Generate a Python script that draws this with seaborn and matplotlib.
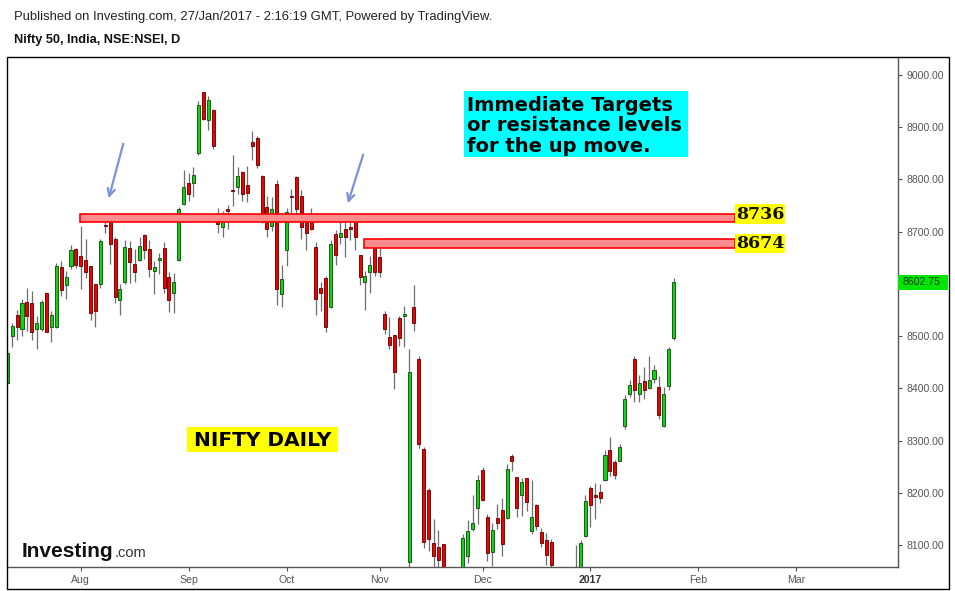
import numpy as np
import pandas as pd
import matplotlib
matplotlib.use("Agg")
import matplotlib.pyplot as plt
import matplotlib.transforms as mtrans
from matplotlib.patches import Rectangle
import seaborn as sns

# ---------------- data (Nifty 50 daily, NSE) ----------------
dates = [
    "2016-07-11", "2016-07-12", "2016-07-13", "2016-07-14", "2016-07-15", "2016-07-18", "2016-07-19",
    "2016-07-20", "2016-07-21", "2016-07-22", "2016-07-25", "2016-07-26", "2016-07-27", "2016-07-28",
    "2016-07-29", "2016-08-01", "2016-08-02", "2016-08-03", "2016-08-04", "2016-08-05", "2016-08-08",
    "2016-08-09", "2016-08-10", "2016-08-11", "2016-08-12", "2016-08-16", "2016-08-17", "2016-08-18",
    "2016-08-19", "2016-08-22", "2016-08-23", "2016-08-24", "2016-08-25", "2016-08-26", "2016-08-29",
    "2016-08-30", "2016-08-31", "2016-09-01", "2016-09-02", "2016-09-06", "2016-09-07", "2016-09-08",
    "2016-09-09", "2016-09-12", "2016-09-14", "2016-09-15", "2016-09-16", "2016-09-19", "2016-09-20",
    "2016-09-21", "2016-09-22", "2016-09-23", "2016-09-26", "2016-09-27", "2016-09-28", "2016-09-29",
    "2016-09-30", "2016-10-03", "2016-10-04", "2016-10-05", "2016-10-06", "2016-10-07", "2016-10-10",
    "2016-10-13", "2016-10-14", "2016-10-17", "2016-10-18", "2016-10-19", "2016-10-20", "2016-10-21",
    "2016-10-24", "2016-10-25", "2016-10-26", "2016-10-27", "2016-10-28", "2016-10-30", "2016-11-01",
    "2016-11-02", "2016-11-03", "2016-11-04", "2016-11-07", "2016-11-08", "2016-11-09", "2016-11-10",
    "2016-11-11", "2016-11-15", "2016-11-16", "2016-11-17", "2016-11-18", "2016-11-21", "2016-11-22",
    "2016-11-23", "2016-11-24", "2016-11-25", "2016-11-28", "2016-11-29", "2016-11-30", "2016-12-01",
    "2016-12-02", "2016-12-05", "2016-12-06", "2016-12-07", "2016-12-08", "2016-12-09", "2016-12-12",
    "2016-12-13", "2016-12-14", "2016-12-15", "2016-12-16", "2016-12-19", "2016-12-20", "2016-12-21",
    "2016-12-22", "2016-12-23", "2016-12-26", "2016-12-27", "2016-12-28", "2016-12-29", "2016-12-30",
    "2017-01-02", "2017-01-03", "2017-01-04", "2017-01-05", "2017-01-06", "2017-01-09", "2017-01-10",
    "2017-01-11", "2017-01-12", "2017-01-13", "2017-01-16", "2017-01-17", "2017-01-18", "2017-01-19",
    "2017-01-20", "2017-01-23", "2017-01-24", "2017-01-25",
]
opens = [
    8411, 8501, 8540, 8514, 8565, 8563, 8513, 8513, 8582, 8518, 8517, 8632, 8597, 8635, 8666,
    8653, 8645, 8634, 8599, 8599, 8712, 8726, 8685, 8570, 8603, 8668, 8638, 8646, 8693, 8666,
    8625, 8646, 8668, 8613, 8582, 8645, 8753, 8793, 8794, 8850, 8967, 8913, 8933, 8732, 8708,
    8743, 8780, 8786, 8815, 8789, 8871, 8879, 8807, 8747, 8710, 8791, 8580, 8665, 8769, 8804,
    8768, 8720, 8732, 8670, 8592, 8611, 8555, 8696, 8690, 8706, 8709, 8719, 8655, 8604, 8623,
    8675, 8651, 8542, 8499, 8502, 8534, 8538, 8067, 8555, 8456, 8283, 8205, 8103, 8096, 8101,
    7989, 8047, 8012, 8004, 8079, 8130, 8170, 8244, 8153, 8087, 8151, 8167, 8151, 8270, 8230,
    8195, 8228, 8126, 8176, 8124, 8110, 8105, 8046, 7991, 7983, 7916, 8047, 8036, 8117, 8209,
    8196, 8201, 8224, 8282, 8259, 8261, 8327, 8390, 8456, 8389, 8414, 8401, 8417, 8402, 8327,
    8405, 8497,
]
highs = [
    8473, 8526, 8550, 8571, 8593, 8586, 8538, 8569, 8584, 8548, 8640, 8644, 8625, 8674, 8668,
    8711, 8686, 8634, 8599, 8686, 8723, 8730, 8689, 8599, 8684, 8683, 8667, 8689, 8696, 8684,
    8643, 8659, 8681, 8622, 8620, 8748, 8818, 8812, 8823, 8951, 8968, 8960, 8934, 8746, 8740,
    8751, 8847, 8823, 8816, 8826, 8893, 8884, 8809, 8768, 8766, 8799, 8636, 8745, 8782, 8807,
    8780, 8724, 8745, 8680, 8603, 8615, 8684, 8703, 8725, 8722, 8736, 8721, 8655, 8625, 8653,
    8675, 8668, 8548, 8537, 8502, 8539, 8558, 8476, 8598, 8461, 8288, 8209, 8150, 8129, 8102,
    8014, 8049, 8030, 8121, 8147, 8196, 8234, 8249, 8159, 8143, 8179, 8189, 8255, 8274, 8230,
    8228, 8228, 8225, 8179, 8132, 8122, 8112, 8049, 8025, 7995, 8047, 8100, 8110, 8196, 8212,
    8219, 8217, 8282, 8307, 8263, 8293, 8387, 8416, 8461, 8426, 8440, 8461, 8445, 8424, 8403,
    8479, 8611,
]
lows = [
    8406, 8480, 8492, 8500, 8510, 8492, 8476, 8510, 8507, 8489, 8515, 8577, 8572, 8628, 8631,
    8591, 8612, 8530, 8518, 8592, 8698, 8639, 8564, 8540, 8600, 8601, 8603, 8643, 8648, 8614,
    8580, 8619, 8583, 8547, 8544, 8643, 8751, 8759, 8767, 8847, 8913, 8895, 8858, 8698, 8689,
    8705, 8749, 8773, 8759, 8757, 8837, 8821, 8716, 8690, 8702, 8559, 8555, 8635, 8736, 8731,
    8685, 8665, 8703, 8540, 8549, 8507, 8553, 8637, 8676, 8652, 8684, 8664, 8597, 8550, 8582,
    8616, 8613, 8504, 8475, 8398, 8481, 8480, 8002, 8510, 8285, 8094, 8089, 8056, 8056, 7916,
    7941, 7999, 7957, 8002, 8066, 8127, 8140, 8185, 8070, 8060, 8131, 8078, 8149, 8242, 8154,
    8156, 8166, 8121, 8129, 8096, 8062, 8047, 7964, 7973, 7894, 7904, 8016, 8020, 8115, 8134,
    8149, 8181, 8223, 8232, 8226, 8260, 8323, 8383, 8373, 8374, 8379, 8399, 8411, 8341, 8326,
    8397, 8492,
]
closes = [
    8467, 8519, 8518, 8563, 8539, 8507, 8526, 8565, 8508, 8540, 8634, 8589, 8614, 8664, 8637,
    8635, 8622, 8544, 8549, 8682, 8711, 8676, 8574, 8590, 8670, 8641, 8622, 8673, 8664, 8628,
    8632, 8649, 8592, 8570, 8604, 8743, 8785, 8773, 8808, 8943, 8916, 8952, 8865, 8714, 8726,
    8740, 8777, 8807, 8773, 8775, 8865, 8828, 8721, 8705, 8743, 8590, 8609, 8737, 8767, 8743,
    8708, 8697, 8706, 8572, 8582, 8518, 8676, 8655, 8697, 8690, 8706, 8689, 8614, 8615, 8636,
    8623, 8623, 8513, 8483, 8432, 8496, 8542, 8431, 8525, 8294, 8106, 8111, 8078, 8071, 7929,
    8002, 8033, 7965, 8113, 8127, 8142, 8225, 8186, 8085, 8129, 8142, 8101, 8245, 8260, 8170,
    8220, 8182, 8153, 8137, 8103, 8080, 8061, 7979, 7985, 7908, 8032, 8034, 8103, 8184, 8177,
    8191, 8189, 8272, 8242, 8234, 8287, 8379, 8406, 8397, 8411, 8396, 8416, 8435, 8348, 8390,
    8475, 8602.75,
]
last_price = 8602.75
yticks = [8100, 8200, 8300, 8400, 8500, 8700, 8800, 8900, 9000]
resistance_levels = [8736, 8674]
header_line1 = "Published on Investing.com, 27/Jan/2017 - 2:16:19 GMT, Powered by TradingView."
header_line2 = "Nifty 50, India, NSE:NSEI, D"
note_lines = ["Immediate Targets", "or resistance levels", "for the up move."]
badge_text = "NIFTY DAILY"

# ---------------- frame ----------------
df = pd.DataFrame({"date": pd.to_datetime(dates), "open": opens, "high": highs,
                   "low": lows, "close": closes})
df["x"] = np.arange(len(df))
df["up"] = df["close"] >= df["open"]

sns.set_theme(style="white")
plt.rcParams["font.family"] = ["Liberation Sans", "DejaVu Sans"]

W, H = 955, 591
fig = plt.figure(figsize=(W / 100, H / 100), dpi=100)
fig.patch.set_facecolor("white")


def fx(px):
    return px / W


def fy(py):
    return 1 - py / H


ax = fig.add_axes([fx(7), fy(567), fx(898) - fx(7), fy(57) - fy(567)])
ax.set_facecolor("white")

# wicks
sns.despine(ax=ax, left=True, top=True, right=False, bottom=False)
ax.vlines(df["x"], df["low"], df["high"], color="#6e6e6e", linewidth=0.9, zorder=2)

# bodies
body_low = np.minimum(df["open"], df["close"])
body_h = np.maximum(np.abs(df["close"] - df["open"]), 1.6)
fill = np.where(df["up"], "#0fd40f", "#f20000")
edge = np.where(df["up"], "#1d5a1d", "#6b0f0f")
ax.bar(df["x"], body_h, bottom=body_low, width=0.62, color=fill, edgecolor=edge,
       linewidth=0.7, zorder=3)

# axis limits
ax.set_xlim(-0.06, 181.8)
ax.set_ylim(8057.8, 9034.5)

# x ticks: first trading day of each month (future months use weekdays)
future = pd.bdate_range("2017-01-26", "2017-03-31")
all_dates = list(df["date"]) + list(future)
tick_pos, tick_lab = [], []
for i in range(1, len(all_dates)):
    if all_dates[i].month != all_dates[i - 1].month:
        tick_pos.append(i)
        d = all_dates[i]
        tick_lab.append(str(d.year) if d.month == 1 else d.strftime("%b"))
ax.set_xticks(tick_pos)
ax.set_xticklabels(tick_lab)
for t in ax.get_xticklabels():
    t.set_color("#555555")
    t.set_fontsize(7.6)
    if t.get_text().isdigit():
        t.set_fontweight("bold")
        t.set_color("#333333")
ax.tick_params(axis="x", direction="out", length=3, width=0.8, color="#555555", pad=3,
               bottom=True)

ax.yaxis.tick_right()
ax.set_yticks(yticks)
ax.set_yticklabels([f"{v:.2f}" for v in yticks])
ax.tick_params(axis="y", direction="out", length=3, width=0.8, color="#555555", pad=3,
               labelsize=7.6, labelcolor="#555555", right=True)
for side in ["right", "bottom"]:
    ax.spines[side].set_color("#555555")
    ax.spines[side].set_linewidth(1.0)
ax.grid(False)

# last price label
btr = mtrans.blended_transform_factory(ax.transAxes, ax.transData)
half = 7.5 * 1.915
ax.add_patch(Rectangle((1.0, last_price - half), 50 / 891, 2 * half, transform=btr,
                       facecolor="#00e600", edgecolor="none", clip_on=False, zorder=5))
ax.text(1.0 + 4 / 891, last_price, f"{last_price:.2f}", transform=btr, fontsize=7.6,
        color="#1a3a1a", va="center", ha="left", zorder=6, clip_on=False)

# resistance zones
zone_left = [14.8, 72.9]
zone_right = 148.5
zone_half = [(8719, 8734), (8668, 8686.5)]
for left, (lo, hi) in zip(zone_left, zone_half):
    ax.add_patch(Rectangle((left, lo), zone_right - left, hi - lo, facecolor="#ff8c8c",
                           edgecolor="#ff0000", linewidth=1.2, zorder=4))


def fig_box(x0, y0, x1, y1, color):
    fig.patches.append(Rectangle((fx(x0), fy(y1)), fx(x1) - fx(x0), fy(y0) - fy(y1),
                                 transform=fig.transFigure, facecolor=color,
                                 edgecolor="none", zorder=5))


# level labels
box_y = [(204, 224), (234, 253)]
for lvl, (y0, y1) in zip(resistance_levels, box_y):
    fig_box(735, y0, 785, y1, "#ffff00")
    fig.text(fx(760), fy((y0 + y1) / 2 + 0.5), str(lvl), ha="center", va="center",
             fontsize=12.5, fontweight="bold", family="DejaVu Serif", color="#111111", zorder=6)

# note box
fig_box(464, 91, 688, 157, "#00ffff")
for line, base in zip(note_lines, [110.7, 131.4, 152.0]):
    fig.text(fx(467), fy(base), line, ha="left", va="baseline", fontsize=14,
             fontweight="bold", family="DejaVu Sans", color="#000000", zorder=6)

# badge
fig_box(187, 427, 338, 452, "#ffff00")
fig.text(fx(262.5), fy(440), badge_text, ha="center", va="center", fontsize=14.5,
         fontweight="bold", family="DejaVu Sans", color="#000000", zorder=6)

# arrows
arrow_color = "#7b93d6"
for (x0, y0), (x1, y1) in [((124, 141), (108, 201)), ((364, 152), (347, 206))]:
    fig.add_artist(matplotlib.patches.FancyArrowPatch(
        (fx(x0), fy(y0)), (fx(x1), fy(y1)), transform=fig.transFigure,
        arrowstyle="->", mutation_scale=13, color=arrow_color, linewidth=1.6))

# header
fig.text(fx(14), fy(17), header_line1, ha="left", va="center", fontsize=9.4, color="#222222")
fig.text(fx(14), fy(40), header_line2, ha="left", va="center", fontsize=9.2,
         fontweight="bold", color="#111111")

# logo
fig.text(fx(22), fy(557), "Investing", ha="left", va="baseline", fontsize=15,
         fontweight="bold", color="#111111")
fig.text(fx(114.5), fy(557), ".com", ha="left", va="baseline", fontsize=10.5,
         color="#333333")

# outer frame
fig.patches.append(Rectangle((fx(7), fy(589)), fx(949) - fx(7), fy(57) - fy(589),
                             transform=fig.transFigure, facecolor="none",
                             edgecolor="#000000", linewidth=1.0, zorder=10))

fig.savefig("out.png", dpi=100)
